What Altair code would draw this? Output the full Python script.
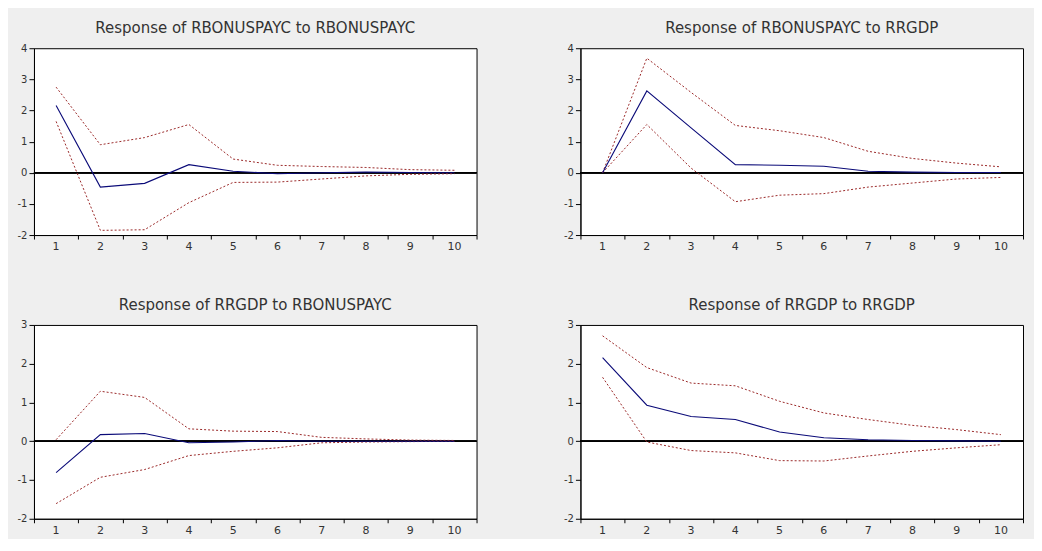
import altair as alt
import pandas as pd

periods = list(range(1, 11))

titles = [
    "Response of RBONUSPAYC to RBONUSPAYC",
    "Response of RBONUSPAYC to RRGDP",
    "Response of RRGDP to RBONUSPAYC",
    "Response of RRGDP to RRGDP",
]

p1_mean = [2.16, -0.46, -0.34, 0.26, 0.05, -0.03, 0.0, 0.02, 0.01, 0.0]
p1_upper = [2.75, 0.90, 1.13, 1.55, 0.44, 0.24, 0.20, 0.17, 0.10, 0.08]
p1_lower = [1.65, -1.85, -1.83, -0.96, -0.31, -0.30, -0.20, -0.10, -0.05, -0.03]

p2_mean = [0.0, 2.63, 1.44, 0.26, 0.24, 0.21, 0.05, 0.02, 0.01, 0.01]
p2_upper = [0.0, 3.68, 2.58, 1.52, 1.35, 1.13, 0.69, 0.46, 0.31, 0.19]
p2_lower = [0.0, 1.55, 0.15, -0.93, -0.72, -0.67, -0.46, -0.33, -0.20, -0.15]

p3_mean = [-0.81, 0.17, 0.20, -0.04, -0.02, 0.02, 0.0, 0.0, 0.0, 0.0]
p3_upper = [0.04, 1.29, 1.13, 0.32, 0.26, 0.25, 0.10, 0.06, 0.03, 0.02]
p3_lower = [-1.61, -0.93, -0.73, -0.37, -0.26, -0.17, -0.04, -0.02, -0.01, 0.0]

p4_mean = [2.16, 0.93, 0.64, 0.56, 0.24, 0.09, 0.04, 0.02, 0.01, 0.0]
p4_upper = [2.72, 1.90, 1.50, 1.43, 1.03, 0.73, 0.56, 0.41, 0.30, 0.17]
p4_lower = [1.65, -0.02, -0.24, -0.30, -0.50, -0.51, -0.38, -0.26, -0.17, -0.09]

y_domains = [[-2, 4], [-2, 4], [-2, 3], [-2, 3]]
y_ticks = [[-2, -1, 0, 1, 2, 3, 4], [-2, -1, 0, 1, 2, 3, 4],
           [-2, -1, 0, 1, 2, 3], [-2, -1, 0, 1, 2, 3]]
x_ticks = [0.5 + i for i in range(11)]

panels = [
    (p1_mean, p1_upper, p1_lower),
    (p2_mean, p2_upper, p2_lower),
    (p3_mean, p3_upper, p3_lower),
    (p4_mean, p4_upper, p4_lower),
]

W = 443
H_TOP = 187
H_BOT = 194
FONT = "DejaVu Sans"
TEXT_COLOR = "#333333"


def make_panel(i):
    mean, upper, lower = panels[i]
    rows = []
    for s, vals in (("mean", mean), ("upper", upper), ("lower", lower)):
        for p, v in zip(periods, vals):
            rows.append({"period": p, "value": v, "series": s})
    df = pd.DataFrame(rows)
    h = H_TOP if i < 2 else H_BOT

    xscale = alt.Scale(domain=[0.5, 10.5], nice=False, zero=False)
    yscale = alt.Scale(domain=y_domains[i], nice=False, zero=False)

    xaxis = alt.Axis(
        values=x_ticks,
        labels=False,
        grid=False,
        title=None,
        tickSize=4,
        tickColor="black",
        domainColor="black",
    )
    yaxis = alt.Axis(
        values=y_ticks[i],
        format="d",
        labelExpr="replace(datum.label, '\u2212', '-')",
        labelOverlap=False,
        labelFlush=False,
        grid=False,
        title=None,
        tickSize=5,
        tickColor="black",
        domainColor="black",
        labelFont=FONT,
        labelFontSize=10,
        labelColor=TEXT_COLOR,
        labelPadding=2,
    )
    x = alt.X("period:Q", scale=xscale, axis=xaxis)
    y = alt.Y("value:Q", scale=yscale, axis=yaxis)

    base = alt.Chart(df)

    zero = base.transform_filter(alt.datum.series == "mean").mark_rule(
        color="black", strokeWidth=1
    ).encode(
        y=alt.Y(datum=0, scale=yscale, axis=yaxis),
        x=alt.value(0),
        x2=alt.value(W),
    )

    bands = base.transform_filter(alt.datum.series != "mean").mark_line(
        color="#9b2a2a", strokeWidth=1, strokeDash=[2, 2]
    ).encode(x=x, y=y, detail="series:N")

    mean_line = base.transform_filter(alt.datum.series == "mean").mark_line(
        color="#0a0a78", strokeWidth=1.1
    ).encode(x=x, y=y)

    xlabels = base.transform_filter(alt.datum.series == "mean").mark_text(
        font=FONT, fontSize=11, color=TEXT_COLOR, baseline="middle", dy=12
    ).encode(
        x=alt.X("period:Q", scale=xscale, axis=xaxis),
        y=alt.value(h),
        text=alt.Text("period:Q", format="d"),
    )

    return alt.layer(zero, bands, mean_line, xlabels).properties(
        width=W,
        height=h,
        title=alt.TitleParams(
            titles[i],
            font=FONT,
            fontSize=15,
            fontWeight="normal",
            color=TEXT_COLOR,
            anchor="middle",
            offset=7,
        ),
    )


top = alt.hconcat(make_panel(0), make_panel(1), spacing=85)
bottom = alt.hconcat(make_panel(2), make_panel(3), spacing=85)

chart = alt.vconcat(top, bottom, spacing=44).properties(
    background="#efefef",
    padding={"left": 8, "top": 12, "right": 10, "bottom": 2},
).configure_view(
    fill="white", stroke="black", strokeWidth=1
)

chart.save("out.html", embed_options={"renderer": "svg", "actions": False})
